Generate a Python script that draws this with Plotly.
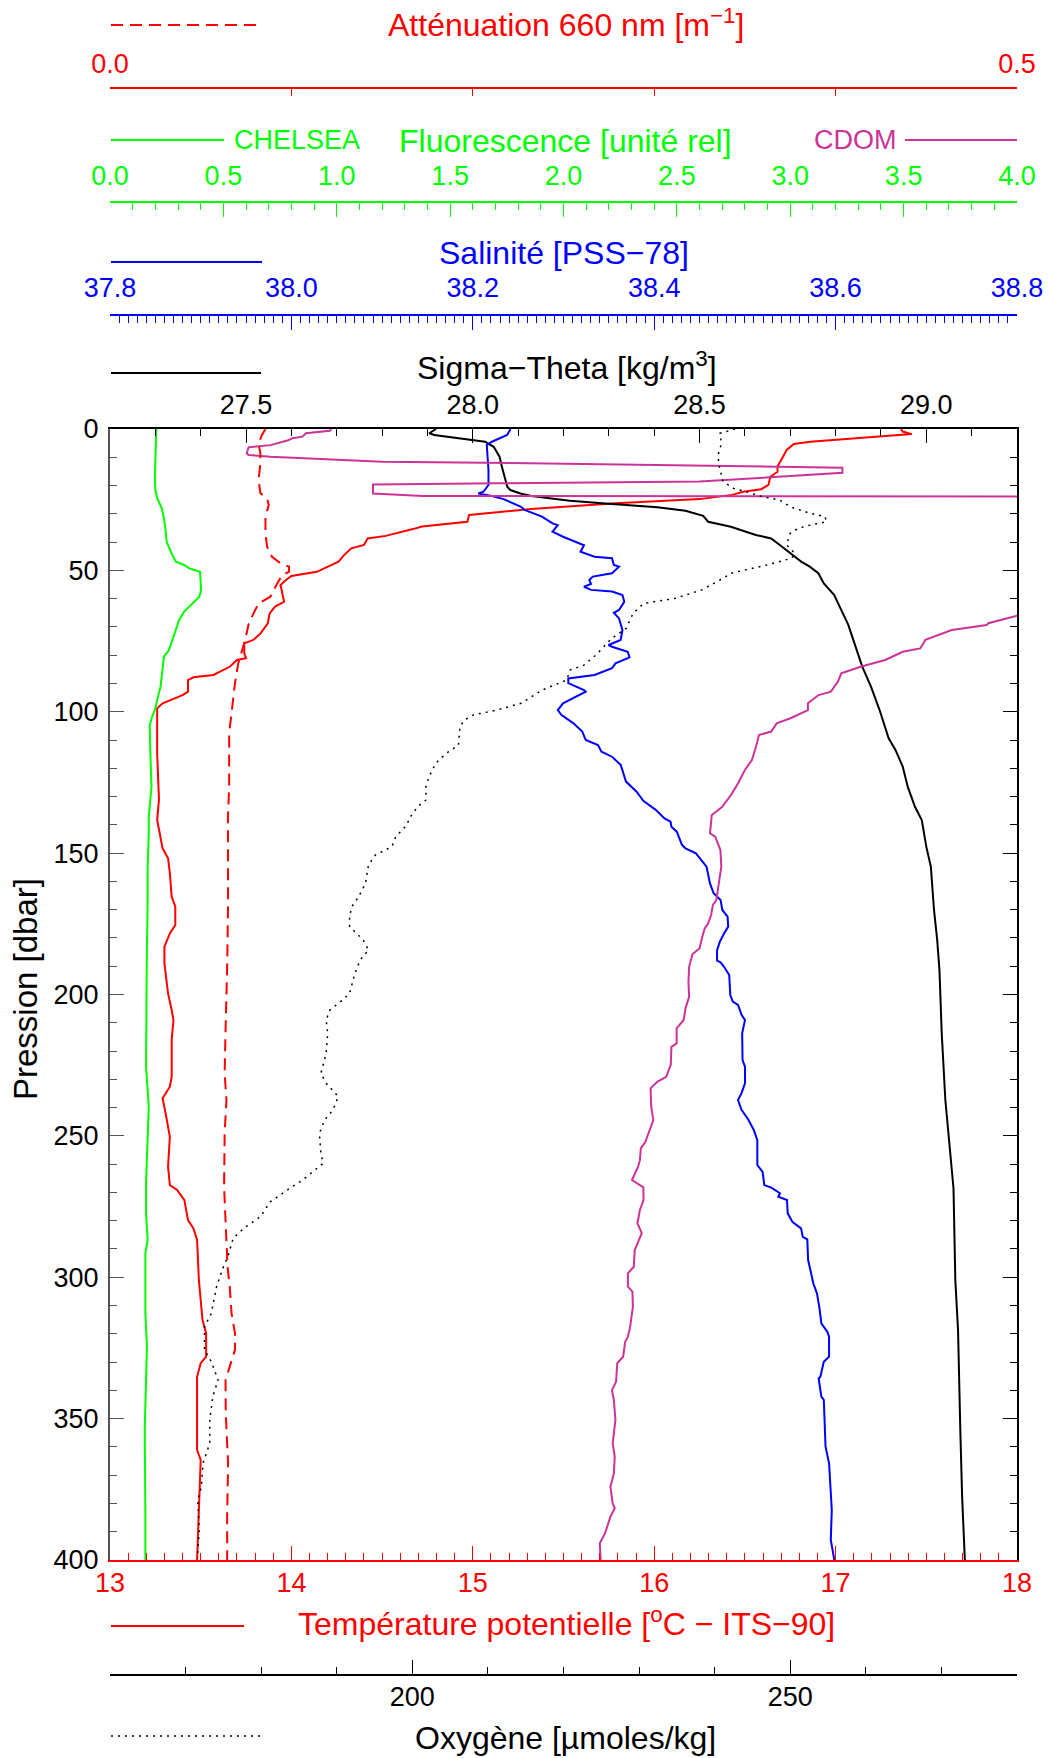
import plotly.graph_objects as go

# ---------------- CTD profile data (pressure in dbar) ----------------
temp_p = [0, 0.9, 1.8, 2.1, 4.5, 5.3, 7.4, 9.8, 13.3, 15.1, 16.9, 19.8, 21.3, 22.2, 23.3, 24.8,
          26.3, 28.3, 30.4, 32.8, 34.5, 35.4, 37.8, 38.7, 41.0, 42.2, 44.6, 46.9, 48.7, 50.5,
          52.0, 53.4, 55.2, 61.1, 62.8, 65.2, 68.7, 72.3, 74.6, 75.8, 79.3, 81.1, 81.7, 84.1,
          87.0, 87.8, 88.8, 92.9, 94.1, 97.0, 98.8, 114.7, 131.0, 138.3, 148.3, 151.8, 157.1,
          165.4, 168.9, 175.4, 178.4, 183.1, 189.0, 199.6, 205.5, 209.0, 216.1, 229.1, 232.6,
          236.7, 243.2, 250.3, 260.9, 267.4, 269.1, 272.7, 279.8, 282.7, 286.8, 301.0, 315.1,
          319.8, 328.1, 330.4, 335.2, 361.1, 364.6, 383.5, 400.0]
temp_v = [17.36, 17.37, 17.42, 17.36, 16.86, 16.77, 16.73, 16.71, 16.68, 16.68, 16.64, 16.63,
          16.59, 16.49, 16.43, 16.25, 15.79, 15.32, 14.98, 14.97, 14.72, 14.67, 14.52, 14.42,
          14.40, 14.33, 14.29, 14.26, 14.20, 14.14, 14.00, 13.97, 13.94, 13.96, 13.91, 13.88,
          13.87, 13.83, 13.79, 13.74, 13.74, 13.75, 13.70, 13.66, 13.57, 13.46, 13.43, 13.43,
          13.40, 13.29, 13.26, 13.26, 13.27, 13.26, 13.29, 13.32, 13.33, 13.34, 13.36, 13.36,
          13.33, 13.30, 13.30, 13.32, 13.34, 13.35, 13.34, 13.34, 13.33, 13.29, 13.31, 13.33,
          13.32, 13.33, 13.37, 13.41, 13.43, 13.46, 13.48, 13.49, 13.51, 13.53, 13.53, 13.50,
          13.48, 13.48, 13.50, 13.49, 13.48]

atten_p = [0, 2.1, 5.1, 8.6, 12.1, 18.0, 22.7, 24.5, 26.9, 31.0, 36.9, 41.6, 45.2, 47.5, 48.7,
           50.5, 51.6, 54.6, 59.3, 61.7, 65.2, 69.3, 74.6, 78.8, 82.9, 89.9, 99.4, 107.6, 126.5,
           137.7, 166.6, 190.0, 212.6, 227.9, 237.3, 249.0, 268.0, 283.3, 296.3, 303.3, 312.7,
           319.8, 325.7, 331.6, 336.3, 348.0, 365.8, 383.4, 400.0]
atten_v = [0.0857, 0.0838, 0.0819, 0.0829, 0.0829, 0.0819, 0.0829, 0.0866, 0.0875, 0.0857,
           0.0857, 0.0866, 0.0893, 0.0940, 0.0987, 0.0987, 0.0950, 0.0922, 0.0884, 0.0819,
           0.0791, 0.0763, 0.0745, 0.0726, 0.0707, 0.0689, 0.0670, 0.0657, 0.0657, 0.0650,
           0.0651, 0.0646, 0.0637, 0.0632, 0.0642, 0.0632, 0.0629, 0.0638, 0.0648, 0.0660,
           0.0670, 0.0689, 0.0689, 0.0660, 0.0637, 0.0638, 0.0651, 0.0646, 0.0646]

chelsea_p = [0, 8.6, 16.9, 21.6, 24.5, 28.0, 31.6, 35.7, 39.9, 43.4, 46.9, 48.1, 49.3, 50.5,
             56.9, 59.3, 62.2, 64.6, 67.5, 71.1, 74.6, 78.2, 80.5, 86.4, 91.1, 95.8, 98.8,
             101.7, 104.7, 114.6, 126.5, 137.1, 143.0, 154.8, 166.6, 190.2, 210.0, 225.5,
             239.7, 249.0, 266.7, 277.4, 286.8, 291.5, 312.8, 324.6, 342.2, 354.0, 383.5, 400.0]
chelsea_v = [0.204, 0.200, 0.198, 0.200, 0.208, 0.228, 0.238, 0.245, 0.250, 0.268, 0.290,
             0.327, 0.350, 0.397, 0.402, 0.394, 0.357, 0.327, 0.305, 0.290, 0.275, 0.260,
             0.238, 0.231, 0.223, 0.208, 0.200, 0.186, 0.175, 0.178, 0.183, 0.171, 0.171,
             0.166, 0.166, 0.162, 0.159, 0.159, 0.171, 0.166, 0.159, 0.159, 0.166, 0.156,
             0.156, 0.163, 0.159, 0.153, 0.156, 0.156]

cdom_p = [0, 0.6, 1.5, 2.7, 3.3, 4.1, 5.7, 6.5, 8.6, 9.2, 9.8, 11.6, 12.1, 13.1, 13.7, 15.5,
          18.6, 19.2, 19.6, 22.8, 23.7, 24.3, 40.0, 63.0, 66.0, 68.7, 69.3, 71.1, 74.6, 77.6,
          78.8, 81.7, 84.1, 86.4, 89.4, 92.9, 94.1, 97.0, 99.4, 102.3, 104.1, 107.0, 108.2,
          112.9, 117.1, 120.6, 125.3, 129.4, 133.6, 136.5, 143.0, 144.2, 146.0, 148.9, 154.8,
          158.3, 162.4, 166.6, 168.3, 171.9, 174.8, 176.6, 179.6, 183.7, 185.7, 190.2, 195.5,
          200.8, 204.9, 209.0, 212.0, 217.3, 218.5, 224.9, 229.1, 230.8, 233.2, 239.7, 244.4,
          247.4, 252.1, 254.4, 258.6, 260.9, 265.6, 268.2, 272.7, 276.2, 280.9, 284.4, 290.4,
          296.3, 298.6, 303.3, 305.1, 310.4, 317.5, 321.0, 322.8, 328.1, 330.4, 336.9, 339.9,
          343.4, 350.5, 358.7, 363.5, 369.4, 374.1, 380.0, 381.7, 384.7, 390.6, 394.1, 400.0]
cdom_v = [0.976, 0.969, 0.864, 0.849, 0.804, 0.782, 0.708, 0.611, 0.603, 0.611, 0.708, 1.20,
          1.85, 2.60, 3.23, 3.23, 2.60, 1.72, 1.16, 1.16, 1.38, 9.0, 9.0, 4.5, 4.0, 3.874,
          3.866, 3.712, 3.596, 3.573, 3.496, 3.419, 3.310, 3.225, 3.210, 3.179, 3.125, 3.078,
          3.078, 3.001, 2.940, 2.916, 2.862, 2.847, 2.831, 2.800, 2.770, 2.739, 2.700, 2.654,
          2.646, 2.669, 2.677, 2.692, 2.696, 2.690, 2.680, 2.674, 2.659, 2.651, 2.638, 2.623,
          2.612, 2.600, 2.569, 2.554, 2.551, 2.554, 2.538, 2.530, 2.499, 2.499, 2.476, 2.473,
          2.453, 2.415, 2.384, 2.387, 2.396, 2.381, 2.361, 2.341, 2.337, 2.329, 2.302, 2.352,
          2.353, 2.337, 2.326, 2.345, 2.314, 2.310, 2.284, 2.284, 2.304, 2.306, 2.294, 2.284,
          2.272, 2.263, 2.237, 2.232, 2.214, 2.222, 2.229, 2.217, 2.226, 2.222, 2.207, 2.217,
          2.226, 2.207, 2.183, 2.160, 2.164]

sal_p = [0, 2.1, 4.5, 5.7, 14.5, 19.8, 22.2, 22.8, 23.7, 24.8, 27.5, 28.6, 31.0, 33.4, 34.0,
         36.3, 38.1, 40.4, 41.1, 43.4, 45.2, 45.7, 48.1, 48.7, 51.0, 52.2, 53.4, 54.8, 55.8,
         56.9, 57.5, 58.7, 61.1, 64.0, 65.0, 67.0, 71.1, 74.6, 76.4, 77.0, 78.8, 80.8, 82.9,
         84.6, 87.0, 88.2, 89.9, 92.3, 92.9, 97.0, 99.4, 101.1, 104.1, 107.0, 110.0, 111.8,
         114.1, 115.9, 117.1, 118.8, 124.7, 128.3, 131.5, 134.7, 137.7, 138.9, 140.7, 142.4,
         147.1, 148.3, 150.1, 152.4, 154.8, 160.7, 164.2, 166.6, 170.1, 172.5, 176.0, 178.4,
         181.3, 184.3, 188.0, 188.6, 190.2, 193.1, 200.2, 202.5, 203.7, 207.2, 209.0, 213.7,
         223.2, 225.5, 231.4, 234.9, 237.3, 240.8, 244.4, 247.9, 251.5, 260.3, 262.7, 267.4,
         268.3, 270.3, 271.5, 272.7, 277.4, 280.4, 282.7, 285.7, 286.6, 293.9, 302.2, 305.7,
         310.4, 316.3, 319.3, 321.0, 328.1, 329.9, 335.2, 335.8, 342.2, 343.4, 359.9, 365.8,
         377.6, 382.3, 392.9, 400.0]
sal_v = [38.2416, 38.2378, 38.2211, 38.2154, 38.2173, 38.2173, 38.2117, 38.2060, 38.2211,
         38.2340, 38.2532, 38.2570, 38.2763, 38.2879, 38.2937, 38.2879, 38.2995, 38.3188,
         38.3226, 38.3188, 38.3342, 38.3535, 38.3555, 38.3612, 38.3535, 38.3323, 38.3284,
         38.3303, 38.3226, 38.3303, 38.3535, 38.3650, 38.3670, 38.3612, 38.3555, 38.3612,
         38.3650, 38.3630, 38.3496, 38.3535, 38.3708, 38.3728, 38.3573, 38.3535, 38.3342,
         38.3053, 38.3053, 38.3226, 38.3245, 38.2995, 38.2937, 38.2975, 38.3110, 38.3207,
         38.3245, 38.3380, 38.3419, 38.3535, 38.3573, 38.3631, 38.3689, 38.3806, 38.3880,
         38.4017, 38.4114, 38.4180, 38.4190, 38.4249, 38.4306, 38.4345, 38.4460, 38.4518,
         38.4577, 38.4615, 38.4655, 38.4732, 38.4751, 38.4809, 38.4816, 38.4770, 38.4724,
         38.4693, 38.4693, 38.4732, 38.4770, 38.4827, 38.4839, 38.4866, 38.4924, 38.4963,
         38.5001, 38.4970, 38.4974, 38.5001, 38.5001, 38.4963, 38.4924, 38.4963, 38.5040,
         38.5098, 38.5137, 38.5137, 38.5195, 38.5214, 38.5291, 38.5387, 38.5368, 38.5464,
         38.5472, 38.5523, 38.5619, 38.5638, 38.5688, 38.5697, 38.5755, 38.5794, 38.5820,
         38.5843, 38.5909, 38.5928, 38.5928, 38.5870, 38.5832, 38.5813, 38.5843, 38.5870,
         38.5889, 38.5928, 38.5947, 38.5958, 38.5947, 38.5986]

sigma_p = [0, 1.5, 2.1, 4.5, 6.3, 9.8, 13.3, 18.0, 20.4, 21.6, 22.8, 23.7, 25.4, 26.5, 27.7,
           28.9, 30.7, 32.8, 34.6, 37.5, 38.7, 41.0, 44.0, 46.9, 48.7, 51.0, 54.6, 58.7, 62.8,
           69.3, 74.6, 84.1, 91.1, 99.4, 109.4, 113.5, 119.4, 126.5, 133.6, 138.3, 147.7,
           154.8, 170.1, 180.7, 191.3, 213.7, 237.3, 255.0, 268.6, 301.0, 318.7, 354.0, 377.6,
           400.0]
sigma_v = [27.919, 27.904, 27.915, 28.027, 28.046, 28.059, 28.064, 28.072, 28.076, 28.083,
           28.105, 28.129, 28.214, 28.307, 28.407, 28.469, 28.508, 28.519, 28.569, 28.624,
           28.658, 28.677, 28.701, 28.724, 28.743, 28.762, 28.774, 28.797, 28.809, 28.828,
           28.839, 28.859, 28.878, 28.897, 28.917, 28.932, 28.948, 28.959, 28.975, 28.990,
           29.000, 29.010, 29.017, 29.024, 29.029, 29.034, 29.042, 29.052, 29.060, 29.064,
           29.070, 29.075, 29.079, 29.085]

oxy_p = [0, 0.9, 1.5, 5.1, 8.6, 12.1, 16.3, 18.6, 21.0, 22.2, 23.9, 25.1, 27.5, 29.8, 31.0,
         32.8, 34.0, 35.1, 36.9, 41.0, 44.0, 45.7, 48.1, 51.0, 53.4, 56.9, 59.9, 61.7, 65.2,
         70.5, 74.0, 79.9, 83.5, 85.2, 88.8, 92.3, 97.0, 99.4, 101.1, 102.9, 105.3, 111.8,
         114.7, 118.2, 123.0, 126.5, 131.2, 133.6, 137.7, 140.0, 144.2, 147.7, 150.7, 154.2,
         160.7, 165.4, 168.9, 172.5, 176.0, 178.4, 180.7, 184.3, 187.8, 192.5, 199.6, 201.9,
         205.5, 209.0, 213.7, 220.8, 227.9, 231.4, 236.1, 240.8, 244.4, 249.1, 256.2, 259.7,
         265.6, 268.0, 273.3, 278.6, 282.7, 286.2, 292.7, 296.3, 303.3, 312.8, 317.5, 325.7,
         329.9, 336.3, 342.2, 350.5, 358.7, 365.8, 374.1, 378.8, 389.4, 397.7, 398.6]
oxy_v = [242.7, 241.6, 240.7, 240.9, 240.5, 240.5, 240.9, 241.1, 242.5, 244.2, 246.2, 248.6,
         250.0, 252.6, 254.6, 254.8, 252.6, 251.1, 250.0, 249.5, 250.6, 250.2, 246.9, 242.2,
         240.7, 238.3, 234.8, 230.6, 229.2, 228.3, 226.4, 224.3, 222.7, 220.9, 220.4, 217.2,
         214.4, 211.2, 208.1, 206.9, 206.3, 206.1, 204.5, 203.1, 202.2, 201.8, 201.8, 200.7,
         199.6, 199.3, 197.8, 197.3, 195.1, 194.2, 193.8, 192.9, 192.0, 191.7, 191.7, 192.6,
         193.5, 194.2, 193.1, 192.4, 191.7, 190.8, 189.1, 188.6, 188.8, 188.6, 187.9, 188.6,
         190.2, 189.5, 188.4, 187.7, 187.9, 188.2, 185.5, 184.1, 181.2, 179.9, 177.7, 176.3,
         175.6, 175.0, 174.1, 173.4, 172.5, 172.5, 173.4, 174.3, 173.6, 173.2, 173.2, 172.3,
         172.1, 171.6, 171.8, 171.6, 171.3]

# ---------------- styling ----------------
FONT = "Liberation Sans, Arial, Helvetica, sans-serif"
RED = "#ff0000"
GREEN = "#00ff00"
BLUE = "#0000ff"
MAGENTA = "#cc3399"
BLACK = "#000000"
GREY = "#555555"

W, H = 1049, 1758
ML, MR = 110, 32
PLOT_W = W - ML - MR
PLOT_TOP, PLOT_BOTTOM = 429, 1560
TICK_FS, TITLE_FS = 27, 32
MAJ, MIN = 14, 7


def fy(px):
    """paper fraction for a pixel row measured from the top"""
    return 1 - px / H


def fx(px):
    """paper fraction for a pixel column measured from the left"""
    return (px - ML) / PLOT_W


fig = go.Figure()

line_w = 2
fig.add_trace(go.Scatter(x=cdom_v, y=cdom_p, xaxis="x4", yaxis="y", mode="lines",
                         line=dict(color=MAGENTA, width=line_w)))
fig.add_trace(go.Scatter(x=chelsea_v, y=chelsea_p, xaxis="x4", yaxis="y", mode="lines",
                         line=dict(color=GREEN, width=line_w)))
fig.add_trace(go.Scatter(x=atten_v, y=atten_p, xaxis="x5", yaxis="y", mode="lines",
                         line=dict(color=RED, width=line_w, dash="12px,7px")))
fig.add_trace(go.Scatter(x=oxy_v, y=oxy_p, xaxis="x6", yaxis="y", mode="lines",
                         line=dict(color=BLACK, width=1.5, dash="2px,5px")))
fig.add_trace(go.Scatter(x=sigma_v, y=sigma_p, xaxis="x2", yaxis="y", mode="lines",
                         line=dict(color=BLACK, width=line_w)))
fig.add_trace(go.Scatter(x=sal_v, y=sal_p, xaxis="x3", yaxis="y", mode="lines",
                         line=dict(color=BLUE, width=line_w)))
fig.add_trace(go.Scatter(x=temp_v, y=temp_p, xaxis="x", yaxis="y", mode="lines",
                         line=dict(color=RED, width=line_w)))
# anchor for the right-hand frame axis
fig.add_trace(go.Scatter(x=[13], y=[None], xaxis="x", yaxis="y2", mode="lines"))


def xax(color, rng, dtick, tick0, mdtick, fmt, **kw):
    d = dict(range=rng, showgrid=False, zeroline=False, showline=True, linecolor=color,
             linewidth=1.5, ticks="inside", ticklen=MAJ, tickwidth=1, tickcolor=color,
             dtick=dtick, tick0=tick0, tickformat=fmt, automargin=False,
             tickfont=dict(family=FONT, size=TICK_FS, color=color),
             minor=dict(dtick=mdtick, tick0=tick0, ticks="inside", ticklen=MIN,
                        tickcolor=color, tickwidth=1),
             fixedrange=True)
    d.update(kw)
    return d


ydom = [fy(PLOT_BOTTOM), fy(PLOT_TOP)]

fig.update_layout(
    width=W, height=H,
    margin=dict(l=ML, r=MR, t=0, b=0, autoexpand=False),
    paper_bgcolor="white", plot_bgcolor="white",
    showlegend=False,
    font=dict(family=FONT, size=TICK_FS, color=BLACK),
    xaxis=xax(RED, [13, 18], 1, 13, 0.1, "d", anchor="y", side="bottom", linewidth=2,
              ticklabelstandoff=-2),
    xaxis2=xax(BLACK, [27.2, 29.2], 0.5, 27.5, 0.1, ".1f", anchor="y", side="top",
               overlaying="x", linewidth=2, ticklabelstandoff=2),
    xaxis3=xax(BLUE, [37.8, 38.8], 0.2, 37.8, 0.01, ".1f", anchor="free",
               position=fy(315), side="top", overlaying="x", ticklabelstandoff=6),
    xaxis4=xax(GREEN, [0, 4], 0.5, 0, 0.1, ".1f", anchor="free",
               position=fy(202), side="top", overlaying="x", ticklabelstandoff=5),
    xaxis5=xax(RED, [0, 0.5], 0.5, 0, 0.1, ".1f", anchor="free",
               position=fy(88), side="top", overlaying="x", ticklabelstandoff=3),
    xaxis6=xax(BLACK, [160, 280], 50, 0, 10, "d", anchor="free",
               position=fy(1675), side="bottom", overlaying="x", ticklabelstandoff=-2),
    yaxis=dict(range=[400, 0], domain=ydom, anchor="x", showgrid=False, zeroline=False,
               showline=True, linecolor=GREY, linewidth=2, ticks="inside", ticklen=MAJ,
               tickcolor=GREY, dtick=50, tick0=0, ticklabelstandoff=4, automargin=False,
               tickfont=dict(family=FONT, size=TICK_FS, color=BLACK),
               minor=dict(dtick=10, tick0=0, ticks="inside", ticklen=MIN, tickcolor=GREY),
               fixedrange=True),
    yaxis2=dict(range=[400, 0], domain=ydom, anchor="x", overlaying="y", side="right",
                showgrid=False, zeroline=False, showline=True, linecolor=BLACK, linewidth=2,
                ticks="inside", ticklen=MAJ, tickcolor=BLACK, dtick=50, tick0=0,
                showticklabels=False, automargin=False,
                minor=dict(dtick=10, tick0=0, ticks="inside", ticklen=MIN, tickcolor=BLACK),
                fixedrange=True),
)

# axis titles
titles = [
    ("Atténuation 660 nm [m<sup>−1</sup>]", 566, 23, RED),
    ("Fluorescence [unité rel]", 565, 141, GREEN),
    ("Salinité [PSS−78]", 564, 253, BLUE),
    ("Sigma−Theta [kg/m<sup>3</sup>]", 567, 366, BLACK),
    ("Température potentielle [<sup>o</sup>C − ITS−90]", 566, 1622, RED),
    ("Oxygène [µmoles/kg]", 565, 1738, BLACK),
]
for text, cx, cy, col in titles:
    fig.add_annotation(text=text, xref="paper", yref="paper", x=fx(cx), y=fy(cy),
                       xanchor="center", yanchor="middle", showarrow=False,
                       font=dict(family=FONT, size=TITLE_FS, color=col))

fig.add_annotation(text="CHELSEA", xref="paper", yref="paper", x=fx(232), y=fy(140),
                   xanchor="left", yanchor="middle", showarrow=False,
                   font=dict(family=FONT, size=TICK_FS, color=GREEN))
fig.add_annotation(text="CDOM", xref="paper", yref="paper", x=fx(899), y=fy(140),
                   xanchor="right", yanchor="middle", showarrow=False,
                   font=dict(family=FONT, size=TICK_FS, color=MAGENTA))
fig.add_annotation(text="Pression [dbar]", xref="paper", yref="paper", x=fx(25), y=fy(989),
                   xanchor="center", yanchor="middle", textangle=-90, showarrow=False,
                   font=dict(family=FONT, size=33, color=BLACK))

# legend line samples beside the axis titles
samples = [
    (111, 263, 25, RED, "12px,7px", 2),
    (111, 224, 140, GREEN, "solid", 2),
    (905, 1017, 140, MAGENTA, "solid", 2),
    (111, 262, 262, BLUE, "solid", 2),
    (111, 261, 373, BLACK, "solid", 2),
    (111, 244, 1626, RED, "solid", 2),
    (111, 261, 1736, BLACK, "2px,5px", 1.5),
]
for x0, x1, yy, col, dash, w in samples:
    fig.add_shape(type="line", xref="paper", yref="paper", x0=fx(x0), x1=fx(x1),
                  y0=fy(yy), y1=fy(yy), line=dict(color=col, width=w, dash=dash))

fig.write_html("out.html")
